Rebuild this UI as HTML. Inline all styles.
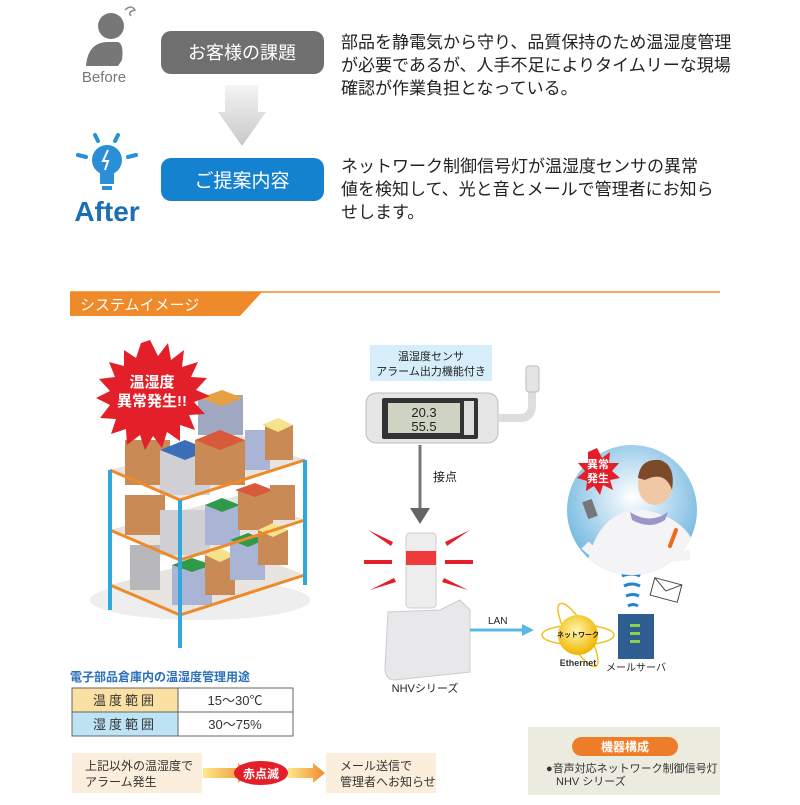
<!DOCTYPE html>
<html><head><meta charset="utf-8"><style>
body{margin:0;background:#fff;}
svg text{font-family:"Liberation Sans","Noto Sans CJK JP",sans-serif;}
</style></head><body>
<svg width="800" height="800" viewBox="0 0 800 800" xmlns="http://www.w3.org/2000/svg">
<defs>
<linearGradient id="ga" x1="0" y1="0" x2="0" y2="1"><stop offset="0" stop-color="#f4f4f4"/><stop offset="1" stop-color="#c8c8c8"/></linearGradient>
<linearGradient id="go" x1="0" y1="0" x2="1" y2="0"><stop offset="0" stop-color="#fde98a"/><stop offset="1" stop-color="#f08a2a"/></linearGradient>
<radialGradient id="gs" cx="0.5" cy="0.4" r="0.6"><stop offset="0" stop-color="#ffffff"/><stop offset="1" stop-color="#6fb5e0"/></radialGradient>
<radialGradient id="gg" cx="0.45" cy="0.4" r="0.6"><stop offset="0" stop-color="#fff8b0"/><stop offset="1" stop-color="#f0b400"/></radialGradient>
<clipPath id="cp"><circle cx="632" cy="510" r="65"/></clipPath>
</defs>
<!-- Before icon -->
<circle cx="111" cy="26" r="13" fill="#777"/>
<path d="M86 66 Q88 42 108 42 L118 42 Q124 44 122 60 L118 66 Z" fill="#777"/>
<path d="M125 10 q6 -6 10 0 q-8 2 -4 6" fill="none" stroke="#888" stroke-width="1.5"/>
<text x="104" y="82" font-size="15" fill="#777" text-anchor="middle">Before</text>
<rect x="161" y="31" width="163" height="43" rx="10" fill="#6f6f6f"/>
<text x="242" y="59" font-size="18" fill="#fff" text-anchor="middle">お客様の課題</text>
<path d="M225 85 H258 V112 H266 L242 146 L218 112 H225 Z" fill="url(#ga)"/>
<path d="M95 135 l3 6 M118 135 l-3 6 M78 155 l8 2 M136 155 l-8 2" stroke="#2a8fd6" stroke-width="4" stroke-linecap="round"/>
<circle cx="107" cy="160" r="15" fill="#2a8fd6"/>
<rect x="100" y="170" width="14" height="14" fill="#2a8fd6"/>
<rect x="102" y="186" width="10" height="4" fill="#2a8fd6"/>
<path d="M108 150 l-5 11 h5 l-3 9" stroke="#fff" stroke-width="2" fill="none"/>
<text x="107" y="221" font-size="28" font-weight="bold" fill="#1b6fb4" text-anchor="middle">After</text>
<rect x="161" y="158" width="163" height="43" rx="10" fill="#1582cf"/>
<text x="242" y="187" font-size="19" fill="#fff" text-anchor="middle">ご提案内容</text>
<g font-size="17" fill="#222">
<text x="341" y="48">部品を静電気から守り、品質保持のため温湿度管理</text>
<text x="341" y="71">が必要であるが、人手不足によりタイムリーな現場</text>
<text x="341" y="94">確認が作業負担となっている。</text>
<text x="341" y="172">ネットワーク制御信号灯が温湿度センサの異常</text>
<text x="341" y="195">値を検知して、光と音とメールで管理者にお知ら</text>
<text x="341" y="218">せします。</text>
</g>
<line x1="70" y1="292" x2="720" y2="292" stroke="#ee8a2a" stroke-width="1.5"/>
<path d="M70 292 H262 L240 316 H70 Z" fill="#ee8a2a"/>
<text x="80" y="310" font-size="15" fill="#fff">システムイメージ</text>
<!-- shelf -->
<ellipse cx="200" cy="600" rx="110" ry="20" fill="#eee"/>
<g>
<path d="M110 470 L180 500 L305 460 L240 435 Z" fill="#e8e4e0"/>
<path d="M110 530 L180 560 L305 520 L240 495 Z" fill="#e8e4e0"/>
<path d="M110 585 L180 615 L305 575 L240 550 Z" fill="#e8e4e0"/>
<rect x="125" y="440" width="45" height="45" fill="#c98a55"/>
<rect x="160" y="450" width="50" height="45" fill="#d0d0d4"/><path d="M160 450 L185 440 L210 450 L185 460Z" fill="#3a6fb8"/>
<rect x="198" y="395" width="45" height="40" fill="#9fa8c0"/><path d="M200 398 L222 390 L243 398 L222 406Z" fill="#e8a045"/>
<rect x="195" y="440" width="50" height="45" fill="#c98a55"/><path d="M195 440 L220 430 L245 440 L220 450Z" fill="#d85a3a"/>
<rect x="245" y="430" width="25" height="40" fill="#aab4d4"/>
<rect x="265" y="425" width="28" height="35" fill="#c98a55"/><path d="M262 425 L278 418 L293 425 L278 432Z" fill="#f5e38a"/>
<rect x="125" y="495" width="40" height="40" fill="#c98a55"/>
<rect x="160" y="510" width="50" height="45" fill="#d0d0d4"/>
<rect x="205" y="505" width="35" height="40" fill="#aab4d4"/><path d="M205 505 L222 498 L240 505 L222 512Z" fill="#2f9a4a"/>
<rect x="238" y="490" width="35" height="40" fill="#c98a55"/><path d="M235 490 L255 483 L273 490 L255 497Z" fill="#d85a3a"/>
<rect x="270" y="485" width="25" height="35" fill="#c98a55"/>
<rect x="130" y="545" width="30" height="45" fill="#b8b8bc"/>
<rect x="172" y="565" width="40" height="40" fill="#aab4d4"/><path d="M172 565 L192 558 L212 565 L192 572Z" fill="#2f9a4a"/>
<rect x="205" y="555" width="30" height="40" fill="#c98a55"/><path d="M205 555 L220 548 L235 555 L220 562Z" fill="#f5e38a"/>
<rect x="230" y="540" width="35" height="40" fill="#aab4d4"/><path d="M230 540 L248 533 L265 540 L248 547Z" fill="#2f9a4a"/>
<rect x="258" y="530" width="30" height="35" fill="#c98a55"/><path d="M258 530 L273 523 L288 530 L273 537Z" fill="#f5e38a"/>
<g stroke="#ee8a2a" stroke-width="3" fill="none">
<path d="M110 470 L180 500 L305 460"/><path d="M110 530 L180 560 L305 520"/><path d="M110 585 L180 615 L305 575"/>
</g>
<g stroke="#30a8dc" stroke-width="4">
<line x1="110" y1="470" x2="110" y2="610"/><line x1="180" y1="500" x2="180" y2="648"/><line x1="305" y1="460" x2="305" y2="585"/>
</g>
</g>
<polygon fill="#e3202a" points="150,340 158,356 168,343 171,360 184,350 182,367 198,362 191,377 207,378 196,390 210,396 194,402 205,414 189,415 195,430 180,425 180,441 167,432 162,448 153,436 145,450 140,435 127,445 126,429 111,434 116,419 100,418 110,405 96,398 110,391 99,379 115,377 109,362 124,366 124,350 136,358 141,343"/>
<text x="152" y="387" font-size="15" font-weight="bold" fill="#fff" text-anchor="middle">温湿度</text>
<text x="152" y="406" font-size="15" font-weight="bold" fill="#fff" text-anchor="middle">異常発生!!</text>
<!-- table -->
<text x="70" y="681" font-size="12" font-weight="bold" fill="#2a70b8">電子部品倉庫内の温湿度管理用途</text>
<rect x="72" y="688" width="106" height="24" fill="#fbe0a4"/>
<rect x="72" y="712" width="106" height="24" fill="#bde3f5"/>
<rect x="72" y="688" width="221" height="48" fill="none" stroke="#666" stroke-width="1"/>
<line x1="72" y1="712" x2="293" y2="712" stroke="#666"/><line x1="178" y1="688" x2="178" y2="736" stroke="#666"/>
<g font-size="13" fill="#333" text-anchor="middle">
<text x="125" y="705" letter-spacing="3">温度範囲</text>
<text x="125" y="729" letter-spacing="3">湿度範囲</text>
<text x="235" y="705">15～30℃</text>
<text x="235" y="729">30～75%</text>
</g>
<rect x="72" y="753" width="130" height="40" fill="#fbeedc"/>
<text x="85" y="770" font-size="12" fill="#333">上記以外の温湿度で</text>
<text x="85" y="786" font-size="12" fill="#333">アラーム発生</text>
<path d="M203 768 H238 V763 L250 773 L238 783 V778 H203 Z" fill="url(#go)"/>
<ellipse cx="261" cy="773" rx="27" ry="12" fill="#e3202a"/>
<text x="261" y="778" font-size="12" font-weight="bold" fill="#fff" text-anchor="middle">赤点滅</text>
<path d="M288 768 H313 V763 L325 773 L313 783 V778 H288 Z" fill="url(#go)"/>
<rect x="326" y="753" width="110" height="40" fill="#fbeedc"/>
<text x="340" y="770" font-size="12" fill="#333">メール送信で</text>
<text x="340" y="786" font-size="12" fill="#333">管理者へお知らせ</text>
<rect x="528" y="727" width="192" height="68" fill="#ebebe0"/>
<rect x="572" y="737" width="106" height="19" rx="9.5" fill="#ee7d2a"/>
<text x="625" y="751" font-size="12" font-weight="bold" fill="#fff" text-anchor="middle">機器構成</text>
<text x="546" y="772" font-size="11" fill="#333">●音声対応ネットワーク制御信号灯</text>
<text x="556" y="785" font-size="11" fill="#333">NHV シリーズ</text>
<!-- sensor -->
<rect x="370" y="345" width="122" height="36" fill="#d6eef9"/>
<text x="431" y="360" font-size="11" fill="#222" text-anchor="middle">温湿度センサ</text>
<text x="431" y="375" font-size="11" fill="#222" text-anchor="middle">アラーム出力機能付き</text>
<rect x="366" y="393" width="132" height="50" rx="10" fill="#e6e6e6" stroke="#bbb"/>
<rect x="382" y="398" width="96" height="41" rx="2" fill="#333"/>
<rect x="388" y="403" width="72" height="30" fill="#cfd3c4"/>
<text x="424" y="417" font-size="13" fill="#222" text-anchor="middle">20.3</text>
<text x="424" y="431" font-size="13" fill="#222" text-anchor="middle">55.5</text>
<rect x="464" y="401" width="10" height="34" fill="#ddd"/>
<path d="M498 418 H520 Q532 418 532 405 V388" stroke="#ddd" stroke-width="8" fill="none"/>
<rect x="526" y="366" width="13" height="26" rx="3" fill="#e4e4e4" stroke="#bbb"/>
<line x1="420" y1="445" x2="420" y2="510" stroke="#777" stroke-width="3"/>
<path d="M410 508 L420 524 L430 508 Z" fill="#666"/>
<text x="433" y="481" font-size="12" fill="#222">接点</text>
<g fill="#e3202a">
<path d="M368 530 l25 12 l-2 4 Z"/><path d="M364 560 h28 v4 h-28 Z"/><path d="M370 590 l24 -12 l2 4 Z"/>
<path d="M470 530 l-25 12 l2 4 Z"/><path d="M473 560 h-28 v4 h28 Z"/><path d="M468 590 l-24 -12 l-2 4 Z"/>
</g>
<rect x="406" y="533" width="30" height="75" rx="4" fill="#eee" stroke="#ccc"/>
<rect x="406" y="551" width="30" height="14" fill="#ee3a3a"/>
<path d="M388 612 L440 610 L460 600 L470 610 L470 672 L395 680 Q385 680 385 668 Z" fill="#e8e8ea" stroke="#ccc"/>
<text x="425" y="692" font-size="11" fill="#222" text-anchor="middle">NHVシリーズ</text>
<line x1="470" y1="630" x2="525" y2="630" stroke="#5ab8e4" stroke-width="3"/>
<path d="M522 624 L534 630 L522 636Z" fill="#5ab8e4"/>
<text x="488" y="624" font-size="10" fill="#222">LAN</text>
<ellipse cx="578" cy="635" rx="36" ry="10" fill="none" stroke="#f0c020" stroke-width="1.5"/>
<ellipse cx="578" cy="635" rx="36" ry="10" fill="none" stroke="#f0c020" stroke-width="1.5" transform="rotate(60 578 635)"/>
<circle cx="578" cy="635" r="20" fill="url(#gg)"/>
<text x="578" y="637" font-size="7" font-weight="bold" fill="#222" text-anchor="middle">ネットワーク</text>
<text x="578" y="666" font-size="9" font-weight="bold" fill="#333" text-anchor="middle">Ethernet</text>
<rect x="618" y="614" width="36" height="45" fill="#2f5f92"/>
<rect x="630" y="624" width="10" height="3" fill="#8fd050"/><rect x="630" y="632" width="10" height="3" fill="#8fd050"/><rect x="630" y="640" width="10" height="3" fill="#8fd050"/>
<text x="636" y="671" font-size="10" fill="#222" text-anchor="middle">メールサーバ</text>
<g stroke="#1f86d6" stroke-width="3" fill="none">
<path d="M620 566 q10 -4 20 0"/><path d="M622 576 q10 -4 18 0"/><path d="M624 586 q8 -4 16 0"/><path d="M626 596 q7 -3 13 0"/><path d="M628 606 q5 -3 10 0"/>
</g>
<rect x="652" y="581" width="28" height="18" fill="#fff" stroke="#444" transform="rotate(15 666 590)"/>
<path d="M652 581 l14 10 l14 -10" stroke="#444" fill="none" transform="rotate(15 666 590)"/>
<!-- person -->
<circle cx="632" cy="510" r="65" fill="url(#gs)"/>
<g clip-path="url(#cp)">
<path d="M585 575 Q595 510 640 510 Q690 515 700 560 L700 580 L585 580 Z" fill="#f4f4f6"/>
<path d="M630 512 Q650 525 668 512 L665 520 Q650 530 632 520 Z" fill="#9a96c8"/>
</g>
<path d="M585 545 Q610 570 640 560 L690 555" stroke="#f4f4f6" stroke-width="10" fill="none"/>
<ellipse cx="655" cy="485" rx="17" ry="20" fill="#f1c8a6"/>
<path d="M638 478 Q640 458 660 460 Q676 465 672 490 Q665 470 645 480 Z" fill="#7a4a2a"/>
<rect x="585" y="500" width="10" height="18" fill="#777" transform="rotate(-20 590 509)"/>
<path d="M676 530 l-6 16" stroke="#ee6a1a" stroke-width="4" stroke-linecap="round"/>
<polygon fill="#e3202a" points="597,448 602,458 610,452 609,463 619,463 612,471 620,478 610,480 613,490 603,485 600,495 594,486 586,491 587,481 577,478 585,471 578,463 588,463 588,452"/>
<text x="598" y="468" font-size="11" font-weight="bold" fill="#fff" text-anchor="middle">異常</text>
<text x="598" y="482" font-size="11" font-weight="bold" fill="#fff" text-anchor="middle">発生</text>
</svg>
</body></html>
